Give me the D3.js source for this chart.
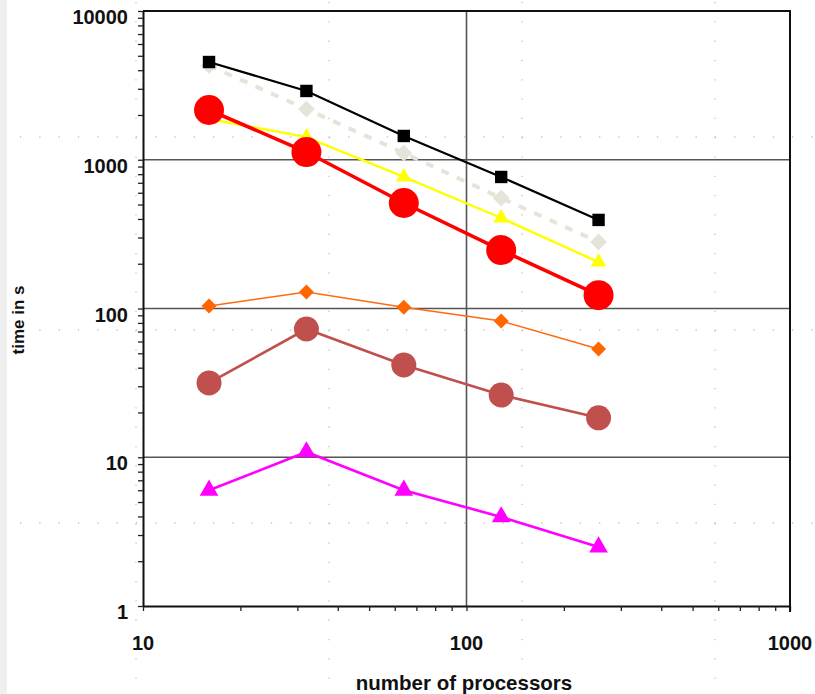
<!DOCTYPE html>
<html><head><meta charset="utf-8">
<script src="https://cdn.jsdelivr.net/npm/d3@7"></script>
<style>html,body{margin:0;padding:0;background:#fff;}svg{display:block;}</style>
</head><body>
<script>
const processors = [16, 32, 64, 128, 256];
const seriesBlack  = [4540, 2900, 1445, 766, 394];
const seriesBeige  = [4300, 2190, 1110, 553, 280];
const seriesYellow = [1880, 1420, 766, 406, 205];
const seriesRed    = [2160, 1127, 512, 247, 123];
const seriesOrange = [104, 129, 102, 82.4, 53.4];
const seriesBrown  = [31.6, 72.8, 41.7, 26.2, 18.4];
const seriesMagenta= [6.0, 10.85, 6.0, 3.97, 2.49];
const xTickLabels = [10, 100, 1000];
const yTickLabels = [1, 10, 100, 1000, 10000];

const W = 815, H = 694;
const L = 143, R = 790, T = 11, B = 606;
const svg = d3.select("body").append("svg").attr("width", W).attr("height", H);
svg.append("rect").attr("width", W).attr("height", H).attr("fill", "#fff");
svg.append("rect").attr("x", 0).attr("y", 0).attr("width", 7).attr("height", H).attr("fill", "#efefef");

// background dotted layout grid
const dotStep = 193;
const bg = svg.append("g").attr("stroke", "#c4c4c4").attr("stroke-width", 1.3).attr("stroke-dasharray", "1.3 18");
for (let k = 0; k < 4; k++) {
  const xx = 136 + dotStep * k;
  bg.append("line").attr("x1", xx).attr("x2", xx).attr("y1", 2).attr("y2", H);
}
for (let k = 0; k < 3; k++) {
  const yy = 137 + dotStep * k;
  bg.append("line").attr("x1", 20).attr("x2", W).attr("y1", yy).attr("y2", yy);
}

const x = d3.scaleLog().domain([10, 1000]).range([L, R]);
const y = d3.scaleLog().domain([1, 10000]).range([B, T]);

// major gridlines
const grid = svg.append("g").attr("stroke", "#555").attr("stroke-width", 1.6);
[10, 100, 1000].forEach(v => grid.append("line").attr("x1", L).attr("x2", R).attr("y1", y(v)).attr("y2", y(v)));
grid.append("line").attr("x1", x(100)).attr("x2", x(100)).attr("y1", T).attr("y2", B);

// axes
const minorX = [], minorY = [];
for (let d = 10; d < 1000; d *= 10) for (let m = 1; m <= 10; m++) minorX.push(d * m);
for (let d = 1; d < 10000; d *= 10) for (let m = 1; m <= 10; m++) minorY.push(d * m);

const xAxis = svg.append("g").attr("transform", `translate(0,${B})`)
  .call(d3.axisBottom(x).tickValues(Array.from(new Set(minorX))).tickFormat("").tickSize(5).tickSizeOuter(0));
const yAxis = svg.append("g").attr("transform", `translate(${L},0)`)
  .call(d3.axisLeft(y).tickValues(Array.from(new Set(minorY))).tickFormat("").tickSize(5).tickSizeOuter(0));
[xAxis, yAxis].forEach(a => {
  a.select(".domain").attr("stroke", "#111").attr("stroke-width", 2);
  a.selectAll(".tick line").attr("stroke", "#222").attr("stroke-width", 1.3);
});

// plot frame top/right
svg.append("line").attr("x1", L).attr("x2", R + 1).attr("y1", T).attr("y2", T).attr("stroke", "#111").attr("stroke-width", 2);
svg.append("line").attr("x1", R).attr("x2", R).attr("y1", T).attr("y2", B + 6).attr("stroke", "#111").attr("stroke-width", 2);

const font = "'Liberation Sans', Arial, sans-serif";
svg.append("g").selectAll("text").data(yTickLabels).join("text")
  .attr("x", 128).attr("y", d => y(d) + 13).attr("text-anchor", "end")
  .attr("font-family", font).attr("font-weight", "bold").attr("font-size", 20).attr("fill", "#111").text(d => d);
svg.append("g").selectAll("text").data(xTickLabels).join("text")
  .attr("x", d => x(d)).attr("y", 650).attr("text-anchor", "middle")
  .attr("font-family", font).attr("font-weight", "bold").attr("font-size", 20).attr("fill", "#111").text(d => d);
svg.append("text").attr("x", 464).attr("y", 690).attr("text-anchor", "middle")
  .attr("font-family", font).attr("font-weight", "bold").attr("font-size", 20.5).attr("fill", "#111").text("number of processors");
svg.append("text").attr("transform", "translate(24,320) rotate(-90)").attr("text-anchor", "middle")
  .attr("font-family", font).attr("font-weight", "bold").attr("font-size", 17).attr("fill", "#111").text("time in s");

const series = [
  {v: seriesBeige, color: "#e6e4d8", w: 4, dash: "8 9", sym: d3.symbolDiamond2, size: 19, fill: "#e6e4d8"},
  {v: seriesBlack, color: "#000", w: 2.2, dash: null, sym: d3.symbolSquare2, size: 14, fill: "#000"},
  {v: seriesYellow, color: "#ffff00", w: 2.4, dash: null, sym: d3.symbolTriangle2, size: 20, fill: "#ffff00"},
  {v: seriesRed, color: "#ff0000", w: 3.6, dash: null, sym: d3.symbolCircle, size: 30, fill: "#ff0000"},
  {v: seriesOrange, color: "#ff6a10", w: 1.5, dash: null, sym: d3.symbolDiamond2, size: 17, fill: "#ff6600"},
  {v: seriesBrown, color: "#c0504d", w: 2.6, dash: null, sym: d3.symbolCircle, size: 25, fill: "#c0504d"},
  {v: seriesMagenta, color: "#ff00ff", w: 2.6, dash: null, sym: d3.symbolTriangle2, size: 24, fill: "#ff00ff"}
];
const line = d3.line().x((d, i) => x(processors[i])).y(d => y(d));
series.forEach(s => {
  const g = svg.append("g");
  g.append("path").attr("d", line(s.v)).attr("fill", "none").attr("stroke", s.color)
    .attr("stroke-width", s.w).attr("stroke-dasharray", s.dash);
  let area;
  if (s.sym === d3.symbolCircle) area = Math.PI * (s.size / 2) ** 2;
  else if (s.sym === d3.symbolSquare2) area = s.size * s.size;
  else if (s.sym === d3.symbolDiamond2) area = s.size * s.size / 2;
  else area = Math.sqrt(3) / 4 * s.size * s.size;
  const sym = d3.symbol().type(s.sym).size(area);
  g.selectAll("path.m").data(s.v).join("path").attr("class", "m")
    .attr("transform", (d, i) => `translate(${x(processors[i])},${y(d)})`)
    .attr("d", sym()).attr("fill", s.fill);
});
</script>
</body></html>
